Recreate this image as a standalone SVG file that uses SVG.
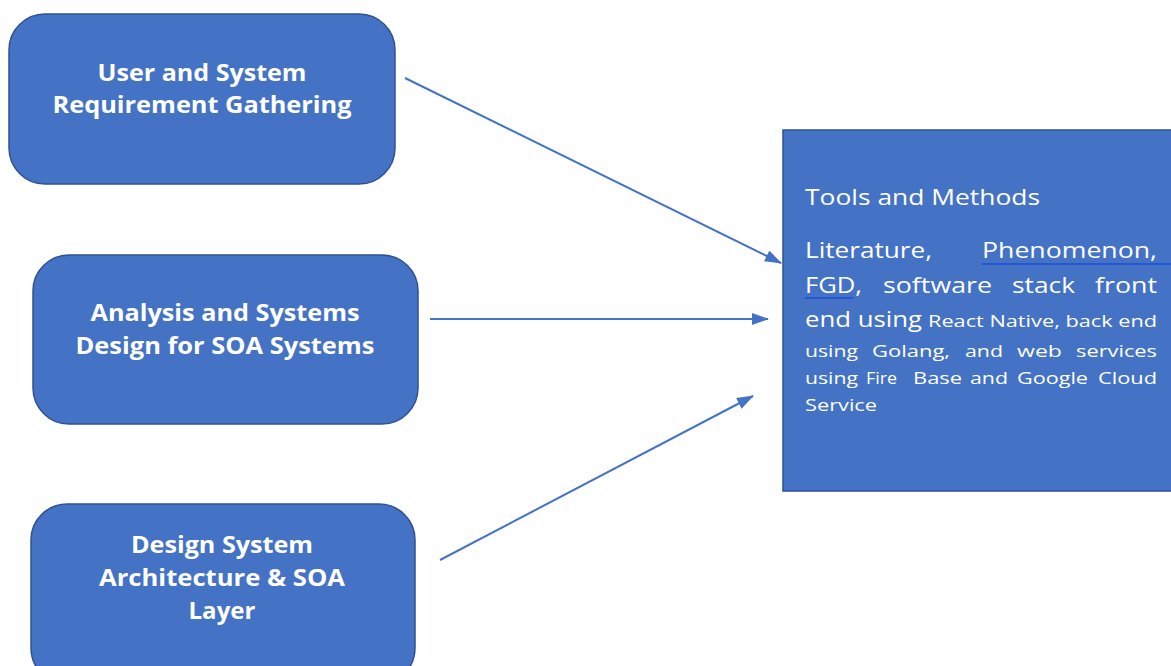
<svg xmlns="http://www.w3.org/2000/svg" width="1171" height="666" viewBox="0 0 1171 666">
  <defs>
    <marker id="arrow" viewBox="0 0 17 12" refX="16" refY="6" markerWidth="17" markerHeight="12" markerUnits="userSpaceOnUse" orient="auto">
      <path d="M0,0 L17,6 L0,12 Z" fill="#4472C4"/>
    </marker>
    <style>
      .box { fill: #4472C4; stroke: #2F528F; stroke-width: 1.5; }
      .label { font-family: "Open Sans", "Liberation Sans", sans-serif; font-weight: bold; font-size: 24px; fill: #FFFFFF; text-anchor: middle; }
      .body { font-family: "Open Sans", "Liberation Sans", sans-serif; fill: #FFFFFF; }
      .big { font-size: 21px; }
      .small { font-size: 17px; }
      .conn { stroke: #4472C4; stroke-width: 2; fill: none; marker-end: url(#arrow); }
      .squiggle { stroke: #2456D6; stroke-width: 2; fill: none; }
    </style>
  </defs>
  <rect width="1171" height="666" fill="#FFFFFF"/>

  <g id="connectors">
    <line class="conn" x1="405" y1="78" x2="781" y2="263"/>
    <line class="conn" x1="430" y1="319" x2="768" y2="319"/>
    <line class="conn" x1="440" y1="560" x2="753" y2="396"/>
  </g>

  <g id="node-requirements">
    <rect class="box" x="9" y="14" width="386" height="170" rx="36" ry="36"/>
    <text class="label" x="202" y="81" textLength="209" lengthAdjust="spacingAndGlyphs">User and System</text>
    <text class="label" x="202" y="113" textLength="299" lengthAdjust="spacingAndGlyphs">Requirement Gathering</text>
  </g>

  <g id="node-analysis">
    <rect class="box" x="33" y="255" width="385" height="169" rx="36" ry="36"/>
    <text class="label" x="225" y="321" textLength="269" lengthAdjust="spacingAndGlyphs">Analysis and Systems</text>
    <text class="label" x="225" y="354" textLength="299" lengthAdjust="spacingAndGlyphs">Design for SOA Systems</text>
  </g>

  <g id="node-architecture">
    <rect class="box" x="31" y="504" width="384" height="180" rx="36" ry="36"/>
    <text class="label" x="222" y="553" textLength="182" lengthAdjust="spacingAndGlyphs">Design System</text>
    <text class="label" x="222" y="586" textLength="246" lengthAdjust="spacingAndGlyphs">Architecture &amp; SOA</text>
    <text class="label" x="222" y="619" textLength="67" lengthAdjust="spacingAndGlyphs">Layer</text>
  </g>

  <g id="node-tools">
    <rect x="783" y="130" width="400" height="361" fill="#4472C4" stroke="#2F528F" stroke-width="1.5"/>
    <text class="body big" x="805" y="205" textLength="235" lengthAdjust="spacingAndGlyphs">Tools and Methods</text>

    <!-- justified paragraph, one word per text element -->
    <text class="body big" x="805" y="258" textLength="127" lengthAdjust="spacingAndGlyphs">Literature,</text>
    <text class="body big" x="982" y="258" textLength="175" lengthAdjust="spacingAndGlyphs">Phenomenon,</text>
    <line class="squiggle" x1="982" y1="264" x2="1171" y2="264"/>

    <text class="body big" x="805" y="293" textLength="57" lengthAdjust="spacingAndGlyphs">FGD,</text>
    <text class="body big" x="883" y="293" textLength="109" lengthAdjust="spacingAndGlyphs">software</text>
    <text class="body big" x="1012" y="293" textLength="63" lengthAdjust="spacingAndGlyphs">stack</text>
    <text class="body big" x="1095" y="293" textLength="62" lengthAdjust="spacingAndGlyphs">front</text>
    <line class="squiggle" x1="805" y1="298" x2="853" y2="298"/>

    <text class="body big" x="805" y="327" textLength="117" lengthAdjust="spacingAndGlyphs">end using</text>
    <text class="body small" x="928" y="327" textLength="229" lengthAdjust="spacingAndGlyphs">React Native, back end</text>

    <text class="body small" x="805" y="357" textLength="53" lengthAdjust="spacingAndGlyphs">using</text>
    <text class="body small" x="872" y="357" textLength="78" lengthAdjust="spacingAndGlyphs">Golang,</text>
    <text class="body small" x="965" y="357" textLength="38" lengthAdjust="spacingAndGlyphs">and</text>
    <text class="body small" x="1017" y="357" textLength="45" lengthAdjust="spacingAndGlyphs">web</text>
    <text class="body small" x="1076" y="357" textLength="81" lengthAdjust="spacingAndGlyphs">services</text>

    <text class="body small" x="805" y="384" textLength="53" lengthAdjust="spacingAndGlyphs">using</text>
    <text class="body small" x="866" y="384" textLength="31" lengthAdjust="spacingAndGlyphs">Fire</text>
    <text class="body small" x="913" y="384" textLength="49" lengthAdjust="spacingAndGlyphs">Base</text>
    <text class="body small" x="970" y="384" textLength="38" lengthAdjust="spacingAndGlyphs">and</text>
    <text class="body small" x="1017" y="384" textLength="71" lengthAdjust="spacingAndGlyphs">Google</text>
    <text class="body small" x="1098" y="384" textLength="59" lengthAdjust="spacingAndGlyphs">Cloud</text>

    <text class="body small" x="805" y="411" textLength="72" lengthAdjust="spacingAndGlyphs">Service</text>
  </g>
</svg>
